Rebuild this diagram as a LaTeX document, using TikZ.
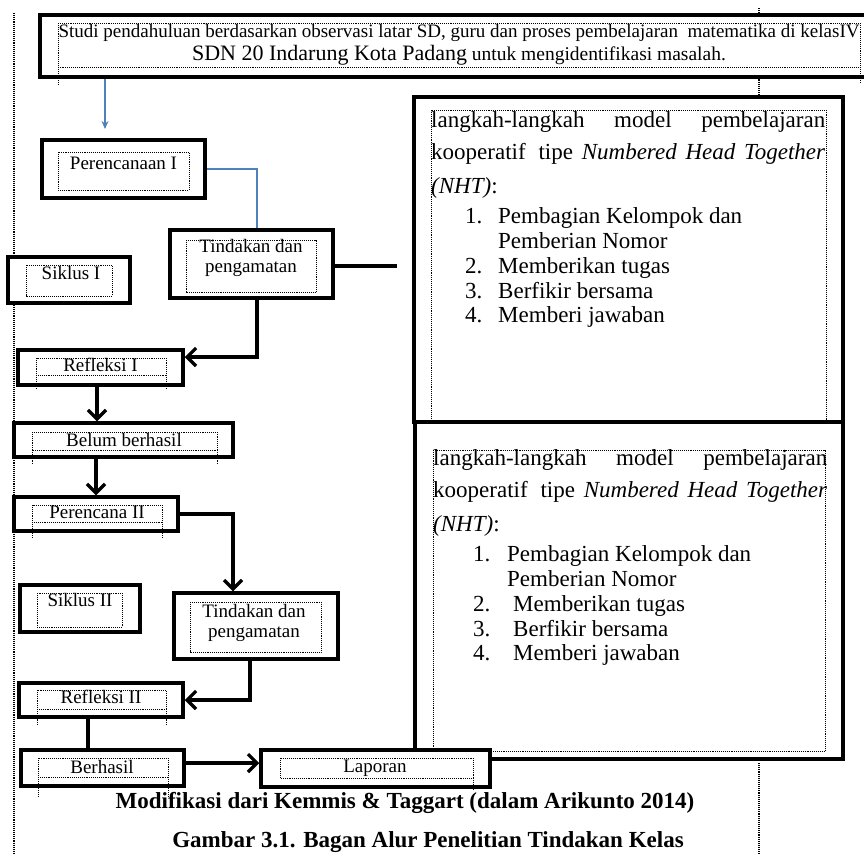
\documentclass[tikz,border=0pt]{standalone}
\usepackage{fontspec}
\setmainfont{Liberation Serif}
\usetikzlibrary{arrows.meta}

\definecolor{wordblue}{RGB}{79,129,189}

\begin{document}
\begin{tikzpicture}[x=1pt,y=-1pt]
  \tikzset{>={Straight Barb[length=9pt,width=18pt]}}
  \tikzset{
    frame/.style={draw, line width=3.5pt, fill=white, inner sep=0pt},
    tbox/.style={draw, densely dotted, line width=0.9pt},
    pagemargin/.style={draw, densely dotted, line width=1.1pt},
    lbl/.style={font=\fontsize{19}{20}\selectfont, align=center, inner sep=0pt},
    nht/.style={font=\fontsize{23}{25}\selectfont, inner sep=0pt, anchor=base west},
    flow/.style={line width=3.2pt},
    captext/.style={font=\fontsize{23}{26}\selectfont\bfseries, inner sep=0pt, anchor=base}
  }
  \useasboundingbox (0,0) rectangle (864,854);

  % page margins
  \draw[pagemargin] (14,13) -- (14,854);
  \draw[pagemargin] (759,8) -- (759,97);
  \draw[pagemargin] (759,763) -- (759,854);

  % NHT boxes
  \node[frame, minimum width=429pt, minimum height=325pt] (nhtA) at (628.5,259.5) {};
  \node[frame, minimum width=428pt, minimum height=337pt] (nhtB) at (629,590.5) {};

  % flow boxes
  \node[frame, minimum width=832pt, minimum height=62pt] (studi) at (456,46) {};
  \node[frame, minimum width=163pt, minimum height=58pt] (ren1) at (123.5,169) {};
  \node[frame, minimum width=163pt, minimum height=68pt] (tin1) at (251.5,264) {};
  \node[frame, minimum width=122pt, minimum height=46pt] (sik1) at (69,280) {};
  \node[frame, minimum width=165pt, minimum height=35pt] (ref1) at (100.5,367.5) {};
  \node[frame, minimum width=219pt, minimum height=34pt] (belum) at (123.5,440) {};
  \node[frame, minimum width=164pt, minimum height=34pt] (ren2) at (96,514) {};
  \node[frame, minimum width=120pt, minimum height=47pt] (sik2) at (80,608.5) {};
  \node[frame, minimum width=164pt, minimum height=66pt] (tin2) at (256,626) {};
  \node[frame, minimum width=164pt, minimum height=34pt] (ref2) at (101,700) {};
  \node[frame, minimum width=163pt, minimum height=36pt] (hasil) at (102.5,768) {};
  \node[frame, minimum width=229pt, minimum height=37pt] (lap) at (375.5,768.5) {};

  % connectors
  \coordinate (blueEnd) at (105,129);
  \coordinate (gapEnd) at (397,266);
  \draw[wordblue, line width=1.2pt, -{Stealth[length=8pt,width=7pt]}] (studi.south -| blueEnd) -- (blueEnd);
  \draw[wordblue, line width=1.2pt] (ren1.east) -| ([xshift=5.5pt]tin1.north);
  \draw[flow] (tin1.east |- gapEnd) -- (gapEnd);
  \draw[flow, ->] ([xshift=5.5pt]tin1.south) |- ([yshift=10.5pt]ref1.east);
  \draw[flow, ->] ([xshift=-3.5pt]ref1.south) -- ([xshift=-3.5pt]ref1.south |- belum.north);
  \draw[flow, ->] (ren2.north |- belum.south) -- (ren2.north);
  \draw[flow, ->] (ren2.east) -| ([xshift=-23pt]tin2.north);
  \draw[flow, ->] ([xshift=-6pt]tin2.south) |- (ref2.east);
  \draw[flow] ([xshift=-13pt]ref2.south) -- ([xshift=-13pt]ref2.south |- hasil.north);
  \draw[flow, ->] ([yshift=5pt]hasil.east) -- ([yshift=5pt]hasil.east -| lap.west);

  % text box outlines
  \foreach \xa/\ya/\xb/\yb in {58/23/860/67, 58/152/189/190, 186/240/316/292, 26/265/112/296,
      36/358/166/375, 32/432/217/450, 32/505/162/522, 37/593/122/627, 190/602/321/652,
      37/690/166/709, 38/758/168/777, 280/758/473/778, 431/110/826/422, 433/450/825/751}
    \draw[tbox] (\xa,\ya) rectangle (\xb,\yb);
  \foreach \x/\ya/\yb in {58/67/85, 860/67/83, 36/375/390, 166/375/390, 32/450/465, 217/450/465,
      32/522/538, 162/522/538, 37/709/725, 166/709/725, 38/777/797, 168/777/797, 473/778/790}
    \draw[tbox] (\x,\ya) -- (\x,\yb);

  % labels
  \node[lbl, font=\fontsize{19}{20}\selectfont] (studiA) at (459,33) {Studi pendahuluan berdasarkan observasi latar SD, guru dan proses pembelajaran\ \ matematika di kelasIV};
  \node[lbl, font=\fontsize{19.5}{20}\selectfont] (studiB) at (459,55) {{\fontsize{22}{23}\selectfont SDN 20 Indarung Kota Padang} untuk mengidentifikasi masalah.};
  \node[lbl, anchor=base] (ren1t) at (123.5,169) {Perencanaan I};
  \node[lbl] (tin1t) at (251,258) {Tindakan dan\\pengamatan};
  \node[lbl, anchor=base] (sik1t) at (71,279) {Siklus I};
  \node[lbl, anchor=base] (ref1t) at (100.5,371) {Refleksi I};
  \node[lbl, anchor=base] (belumt) at (124,446) {Belum berhasil};
  \node[lbl, anchor=base] (ren2t) at (97,518) {Perencana II};
  \node[lbl, anchor=base] (sik2t) at (80,606) {Siklus II};
  \node[lbl] (tin2t) at (254,622.5) {Tindakan dan\\pengamatan};
  \node[lbl, anchor=base] (ref2t) at (101,703) {Refleksi II};
  \node[lbl, anchor=base] (hasilt) at (102,773) {Berhasil};
  \node[lbl, anchor=base] (lapt) at (375,772) {Laporan};

  \foreach \bx/\dy/\lx/\nx/\ix/\jx in {A/0/431/465/498/498, B/338/433/473/507/513} {
    \node[nht] (\bx-l1) at (\lx,127+\dy) {\makebox[394pt][s]{langkah-langkah model pembelajaran}};
    \node[nht] (\bx-l2) at (\lx,159+\dy) {\makebox[394pt][s]{kooperatif\hspace{4pt} tipe \textit{Numbered Head Together}}};
    \node[nht] (\bx-l3) at (\lx,193+\dy) {\textit{(NHT)}:};
    \node[nht] (\bx-n1) at (\nx,223+\dy) {1.};
    \node[nht] (\bx-i1) at (\ix,223+\dy) {Pembagian Kelompok dan};
    \node[nht] (\bx-i1b) at (\ix,248+\dy) {Pemberian Nomor};
    \foreach \k/\txt/\y in {2/Memberikan tugas/273, 3/Berfikir bersama/298, 4/Memberi jawaban/322} {
      \node[nht] (\bx-n\k) at (\nx,\y+\dy) {\k.};
      \node[nht] (\bx-i\k) at (\jx,\y+\dy) {\txt};
    }
  }

  % captions
  \node[captext] (capModif) at (405,808) {Modifikasi dari Kemmis \& Taggart (dalam Arikunto 2014)};
  \node[captext] (capGambar) at (428,847) {Gambar 3.1. Bagan Alur Penelitian Tindakan Kelas};
\end{tikzpicture}
\end{document}
